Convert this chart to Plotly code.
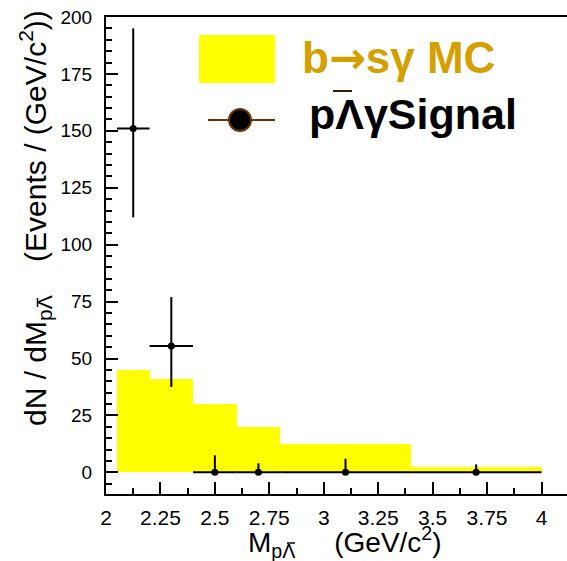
import plotly.graph_objects as go

# ---- data ----
mc_lo = [2.05, 2.2, 2.4, 2.6, 2.8, 3.4]
mc_hi = [2.2, 2.4, 2.6, 2.8, 3.4, 4.0]
mc_val = [45, 41, 30, 20, 12.5, 2.5]

sig_x = [2.125, 2.3, 2.5, 2.7, 3.1, 3.7]
sig_lo = [2.05, 2.2, 2.4, 2.6, 2.8, 3.4]
sig_hi = [2.2, 2.4, 2.6, 2.8, 3.4, 4.0]
sig_y = [151, 55.5, 0, 0, 0, 0]
sig_eup = [44, 21.5, 7.5, 4, 6, 3.5]
sig_edn = [39, 18, 0, 0, 0, 0]

x_ticks = [2, 2.25, 2.5, 2.75, 3, 3.25, 3.5, 3.75, 4]
x_ticktext = ["2", "2.25", "2.5", "2.75", "3", "3.25", "3.5", "3.75", "4"]
y_ticks = [0, 25, 50, 75, 100, 125, 150, 175, 200]

FONT = "Liberation Sans, Arial, sans-serif"
ARROW = "<span style=\"font-family:'DejaVu Sans'\">→</span>"

# pixel -> paper helpers for decorations (plot area: x 106..567, y 17..494)
L, R, T, B = 106, 567, 17, 494
def px(x):
    return (x - L) / (R - L)
def py(y):
    return (B - y) / (B - T)

fig = go.Figure()

fig.add_trace(go.Bar(
    x=[(a + b) / 2 for a, b in zip(mc_lo, mc_hi)],
    y=mc_val,
    width=[b - a for a, b in zip(mc_lo, mc_hi)],
    marker=dict(color="#ffff00", line=dict(width=0)),
    showlegend=False,
))

fig.add_trace(go.Scatter(
    x=sig_x, y=sig_y, mode="markers",
    marker=dict(color="black", size=7),
    error_x=dict(type="data", symmetric=False,
                 array=[h - x for h, x in zip(sig_hi, sig_x)],
                 arrayminus=[x - l for l, x in zip(sig_lo, sig_x)],
                 color="black", thickness=2, width=0),
    error_y=dict(type="data", symmetric=False, array=sig_eup, arrayminus=sig_edn,
                 color="black", thickness=2, width=0),
    showlegend=False,
))

# legend decorations
fig.add_shape(type="rect", xref="paper", yref="paper",
              x0=px(199), x1=px(275), y0=py(83), y1=py(35),
              fillcolor="#ffff00", line=dict(width=0))
fig.add_shape(type="line", xref="paper", yref="paper",
              x0=px(208), x1=px(275), y0=py(120), y1=py(120),
              line=dict(color="#6b3300", width=2))
fig.add_shape(type="circle", xref="paper", yref="paper",
              x0=px(229), x1=px(251), y0=py(131), y1=py(109),
              fillcolor="black", line=dict(color="#6b3300", width=2))

fig.add_annotation(xref="paper", yref="paper", x=px(300), y=py(57),
                   xanchor="left", yanchor="middle", showarrow=False,
                   text="<b>b" + ARROW + "sγ MC</b>",
                   font=dict(family=FONT, size=44, color="#d4a000"))
fig.add_annotation(xref="paper", yref="paper", x=px(307), y=py(114),
                   xanchor="left", yanchor="middle", showarrow=False,
                   text="<b>pΛγSignal</b>",
                   font=dict(family=FONT, size=43, color="black"))
# anti-Lambda bars
fig.add_shape(type="line", xref="paper", yref="paper",
              x0=px(333), x1=px(352), y0=py(91), y1=py(91),
              line=dict(color="#3a1a00", width=2))
fig.add_shape(type="line", xref="paper", yref="paper",
              x0=px(287), x1=px(295), y0=py(543), y1=py(543),
              line=dict(color="black", width=1.5))
fig.add_shape(type="line", xref="paper", yref="paper",
              x0=px(37.5), x1=px(37.5), y0=py(307), y1=py(298),
              line=dict(color="black", width=1.5))

# axis titles
fig.add_annotation(xref="paper", yref="paper", x=px(246), y=py(542),
                   xanchor="left", yanchor="middle", showarrow=False,
                   text="M<sub>pΛ</sub>\u00a0\u00a0\u00a0\u00a0\u00a0(GeV/c<sup>2</sup>)",
                   font=dict(family=FONT, size=28, color="black"))
fig.add_annotation(xref="paper", yref="paper", x=px(35), y=py(218),
                   xanchor="center", yanchor="middle", showarrow=False,
                   textangle=-90,
                   text="dN / dM<sub>pΛ</sub>\u00a0\u00a0\u00a0\u00a0(Events / (GeV/c<sup>2</sup>))",
                   font=dict(family=FONT, size=30, color="black"))

fig.update_layout(
    width=567, height=561,
    margin=dict(l=L, r=567 - R, t=T, b=561 - B, pad=0),
    paper_bgcolor="white", plot_bgcolor="white",
    bargap=0,
    showlegend=False,
    xaxis=dict(range=[2, 2 + (R - L) / 217.75], tickvals=x_ticks, ticktext=x_ticktext,
               ticks="inside", ticklen=12, tickwidth=1.5, tickcolor="black",
               minor=dict(dtick=0.125, tick0=2, ticks="inside", ticklen=6,
                          tickwidth=1.5, tickcolor="black"),
               showline=True, linecolor="black", linewidth=2, mirror=True,
               showgrid=False, zeroline=False,
               tickfont=dict(family=FONT, size=21, color="black"),
               ticklabelstandoff=4),
    yaxis=dict(range=[-9.5, 200], tickvals=y_ticks,
               ticks="inside", ticklen=12, tickwidth=1.5, tickcolor="black",
               minor=dict(dtick=5, tick0=0, ticks="inside", ticklen=6,
                          tickwidth=1.5, tickcolor="black"),
               showline=True, linecolor="black", linewidth=2,
               showgrid=False, zeroline=False,
               tickfont=dict(family=FONT, size=19, color="black"),
               ticklabelstandoff=8),
)

fig.write_html("out.html")
